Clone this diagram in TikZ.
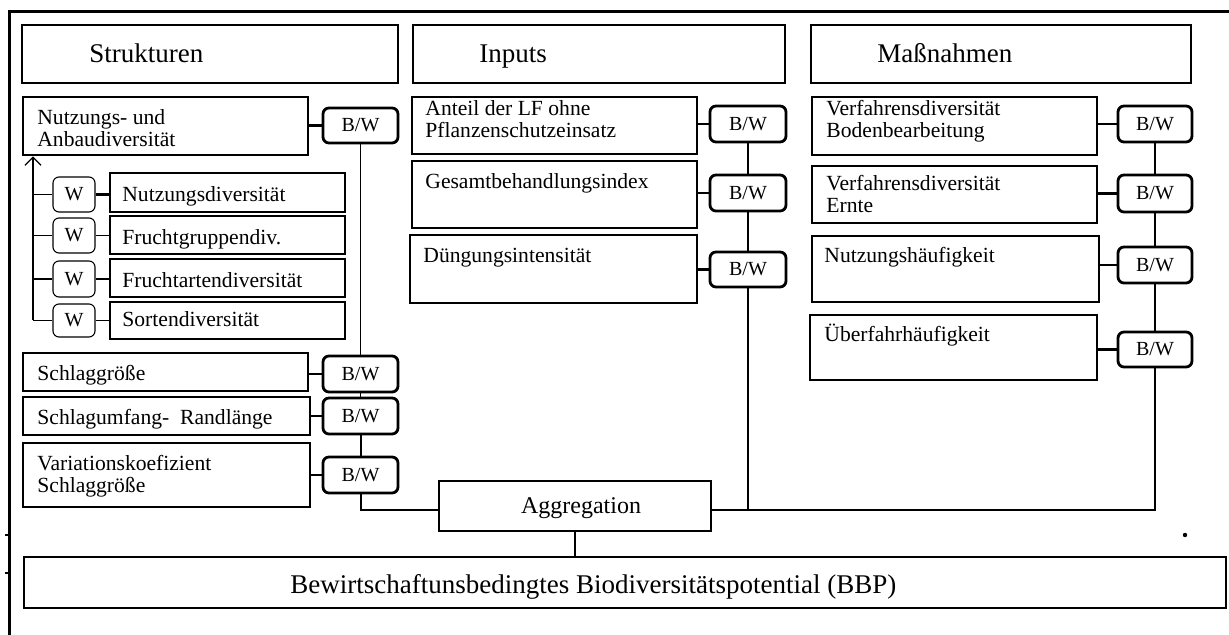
\documentclass[tikz,border=0pt]{standalone}
\usepackage{fontspec}
\setmainfont{Liberation Serif}
\usetikzlibrary{fit,arrows.meta,calc}

\newcommand{\itemfont}{\fontsize{10.8}{11}\selectfont}
\newcommand{\headfont}{\fontsize{13.5}{16}\selectfont}
\newcommand{\tagfont}{\fontsize{10}{12}\selectfont}

\begin{document}
\begin{tikzpicture}[x=0.5pt,y=-0.5pt,
  frame/.style={line width=1.5pt},
  headbox/.style={draw, line width=0.75pt, inner sep=0pt},
  itembox/.style={draw, line width=1.4pt, inner sep=0pt},
  bwbox/.style={draw, line width=1.4pt, rounded corners=3pt, inner sep=0pt,
    label={[inner sep=0pt, font=\tagfont]center:B/W}},
  wbox/.style={draw, line width=0.55pt, rounded corners=3pt, inner sep=0pt,
    label={[inner sep=0pt, font=\tagfont]center:W}},
  txt/.style={inner sep=0pt, align=left, anchor=base west, font=\itemfont},
  htxt/.style={inner sep=0pt, anchor=base west, font=\headfont},
  link/.style={line width=1.4pt},
  thinlink/.style={line width=0.65pt},
  midlink/.style={line width=1pt}
]
\useasboundingbox (0,0) rectangle (1229,635);

% outer frame (top and left edges)
\draw[frame] (9,635) -- (9,12) -- (1229,12);
\draw[line width=0.6pt] (5,535) -- (9,535);
\draw[line width=0.6pt] (5,573) -- (9,573);

% column headings
\node[headbox, fit={(22,25) (398,83)}] (hS) {};
\node[htxt] (hSt) at (89,63) {Strukturen};
\node[headbox, fit={(413,25) (785,83)}] (hI) {};
\node[htxt] (hIt) at (479,63) {Inputs};
\node[headbox, fit={(811,25) (1191,83)}] (hM) {};
\node[htxt] (hMt) at (877,63) {Maßnahmen};

% ---------------- Strukturen ----------------
% (base anchor of a two-line text = baseline of its last line)
\node[itembox, fit={(23,97) (308,155)}] (s1) {};
\node[txt] (s1t) at (37,147) {Nutzungs- und\\Anbaudiversität};
\node[bwbox, fit={(323,108) (398,143)}] (s1bw) {};

\node[wbox, fit={(53,177) (95,212)}] (w1) {};
\node[wbox, fit={(53,218) (95,253)}] (w2) {};
\node[wbox, fit={(53,261) (95,297)}] (w3) {};
\node[wbox, fit={(53,304) (95,337)}] (w4) {};

\node[itembox, fit={(110,173) (345,212)}] (d1) {};
\node[txt] (d1t) at (122,202) {Nutzungsdiversität};
\node[itembox, fit={(110,216) (345,254)}] (d2) {};
\node[txt] (d2t) at (122,245) {Fruchtgruppendiv.};
\node[itembox, fit={(110,259) (345,297)}] (d3) {};
\node[txt] (d3t) at (122,288) {Fruchtartendiversität};
\node[itembox, fit={(110,302) (345,339)}] (d4) {};
\node[txt] (d4t) at (122,327) {Sortendiversität};

\node[itembox, fit={(23,353) (308,391)}] (s2) {};
\node[txt] (s2t) at (37,380) {Schlaggröße};
\node[bwbox, fit={(323,356) (398,392)}] (s2bw) {};

\node[itembox, fit={(23,397) (310,435)}] (s3) {};
\node[txt] (s3t) at (37,424) {Schlagumfang-\ \ Randlänge};
\node[bwbox, fit={(323,398) (398,434)}] (s3bw) {};

\node[itembox, fit={(23,443) (310,507)}] (s4) {};
\node[txt] (s4t) at (37,492) {Variationskoefizient\\Schlaggröße};
\node[bwbox, fit={(323,457) (398,493)}] (s4bw) {};

% sub-indicators feeding the diversity index
\coordinate (wfoot) at (33,320);
\draw[thinlink, -{Straight Barb[length=4pt,width=8pt]}] (wfoot) -- (wfoot |- s1.south);
\foreach \w in {w1,w2,w3,w4} \draw[thinlink] (wfoot |- \w.west) -- (\w.west);
\draw[link] (w1.east) -- (d1.west |- w1.east);
\draw[thinlink] (w2.east) -- (d2.west |- w2.east);
\draw[thinlink] (w3.east) -- (d3.west |- w3.east);
\draw[thinlink] (w4.east) -- (d4.west |- w4.east);

\draw[link] (s1bw.west -| s1.east) -- (s1bw.west);
\draw[link] (s2bw.west -| s2.east) -- (s2bw.west);
\draw[link] (s3bw.west -| s3.east) -- (s3bw.west);
\draw[link] (s4bw.west -| s4.east) -- (s4bw.west);
\draw[thinlink] (s1bw.south) -- (s2bw.north);
\draw[thinlink] (s2bw.south) -- (s3bw.north);
\draw[midlink] (s3bw.south) -- (s4bw.north);

% ---------------- Inputs ----------------
\node[itembox, fit={(412,97) (697,154)}] (i1) {};
\node[txt] (i1t) at (425,138) {Anteil der LF ohne\\Pflanzenschutzeinsatz};
\node[bwbox, fit={(710,106) (786,142)}] (i1bw) {};
\node[itembox, fit={(412,161) (697,228)}] (i2) {};
\node[txt] (i2t) at (425,189) {Gesamtbehandlungsindex};
\node[bwbox, fit={(710,175) (786,211)}] (i2bw) {};
\node[itembox, fit={(410,235) (697,303)}] (i3) {};
\node[txt] (i3t) at (423,263) {Düngungsintensität};
\node[bwbox, fit={(710,252) (786,287)}] (i3bw) {};

\draw[link] (i1bw.west -| i1.east) -- (i1bw.west);
\draw[link] (i2bw.west -| i2.east) -- (i2bw.west);
\draw[link] (i3bw.west -| i3.east) -- (i3bw.west);
\draw[link] (i1bw.south) -- (i2bw.north);
\draw[link] (i2bw.south) -- (i3bw.north);

% ---------------- Maßnahmen ----------------
\node[itembox, fit={(812,97) (1097,155)}] (m1) {};
\node[txt] (m1t) at (826,138) {Verfahrensdiversität\\Bodenbearbeitung};
\node[bwbox, fit={(1118,106) (1192,142)}] (m1bw) {};
\node[itembox, fit={(812,166) (1097,223)}] (m2) {};
\node[txt] (m2t) at (826,213) {Verfahrensdiversität\\Ernte};
\node[bwbox, fit={(1118,175) (1192,212)}] (m2bw) {};
\node[itembox, fit={(812,236) (1099,302)}] (m3) {};
\node[txt] (m3t) at (824,263) {Nutzungshäufigkeit};
\node[bwbox, fit={(1118,247) (1192,283)}] (m3bw) {};
\node[itembox, fit={(810,315) (1097,380)}] (m4) {};
\node[txt] (m4t) at (824,342) {Überfahrhäufigkeit};
\node[bwbox, fit={(1118,332) (1192,367)}] (m4bw) {};

\draw[link] (m1bw.west -| m1.east) -- (m1bw.west);
\draw[link] (m2bw.west -| m2.east) -- (m2bw.west);
\draw[link] (m3bw.west -| m3.east) -- (m3bw.west);
\draw[link] (m4bw.west -| m4.east) -- (m4bw.west);
\draw[thinlink] (m1bw.south) -- (m2bw.north);
\draw[midlink] (m2bw.south) -- (m3bw.north);
\draw[midlink] (m3bw.south) -- (m4bw.north);

% ---------------- aggregation and result ----------------
\node[headbox, fit={(439,481) (711,531)}] (agg) {};
\node[inner sep=0pt, anchor=base, font=\fontsize{12}{14}\selectfont]
  (aggt) at (581,513) {Aggregation};
\node[headbox, fit={(24,557) (1226,608)}] (bbp) {};
\node[htxt] (bbpt) at (290,593) {Bewirtschaftunsbedingtes Biodiversitätspotential (BBP)};

\coordinate (aggin) at ($(agg.west)+(0,4)$);
\coordinate (aggout) at ($(agg.east)+(0,4)$);
\draw[midlink] (s4bw.south) |- (aggin);
\draw[midlink] (i3bw.south) |- (aggout);
\draw[midlink] (m4bw.south) |- (aggout);
\draw[midlink] (agg.south) -- (agg.south |- bbp.north);

\fill (1185,535) circle (1.1pt);
\end{tikzpicture}
\end{document}
